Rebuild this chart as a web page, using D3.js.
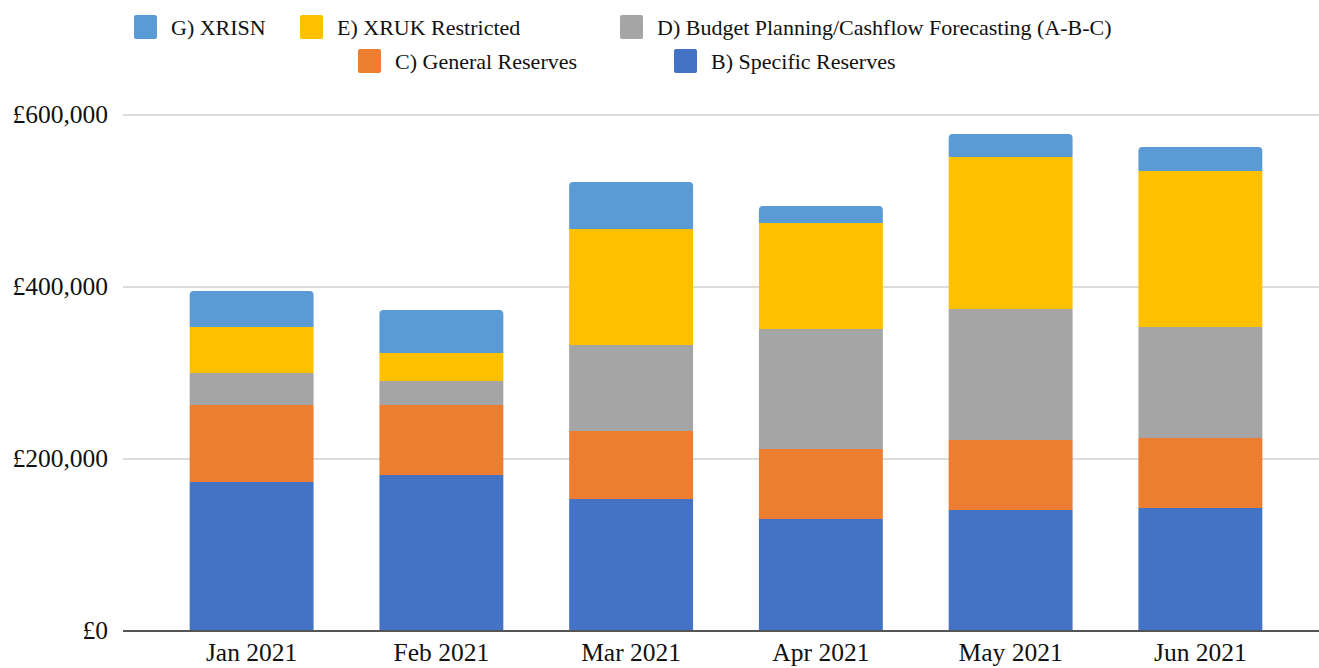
<!DOCTYPE html>
<html>
<head>
<meta charset="utf-8">
<script src="https://cdn.jsdelivr.net/npm/d3@7"></script>
<style>
  body { margin: 0; background: #fff; }
  svg { display: block; }
</style>
</head>
<body>
<svg id="chart" width="1319" height="668"></svg>
<script>
// data
var months = ["Jan 2021", "Feb 2021", "Mar 2021", "Apr 2021", "May 2021", "Jun 2021"];
var specificReserves = [173300, 181400, 153500, 130200, 140700, 143000];
var generalReserves = [89500, 81400, 79100, 81400, 81400, 81400];
var budgetPlanning = [37200, 27900, 100000, 139600, 152300, 129100];
var xrukRestricted = [53500, 32600, 134800, 123200, 176800, 181400];
var xrisn = [41800, 50000, 54600, 19800, 26700, 27900];
var yTicks = [0, 200000, 400000, 600000];

var seriesNames = ["B) Specific Reserves", "C) General Reserves", "D) Budget Planning/Cashflow Forecasting (A-B-C)", "E) XRUK Restricted", "G) XRISN"];
var seriesColors = ["#4472c4", "#ed7d31", "#a5a5a5", "#ffc000", "#5b9bd5"];
var seriesValues = [specificReserves, generalReserves, budgetPlanning, xrukRestricted, xrisn];

var svg = d3.select("#chart");
var fontFam = "'Liberation Serif', Tinos, 'Times New Roman', Times, 'Nimbus Roman', 'Noto Serif', FreeSerif, 'DejaVu Serif', serif";

var x = d3.scaleBand()
  .domain(months)
  .range([128, 1324])
  .paddingInner(0.347)
  .paddingOuter(0.325);

var y = d3.scaleLinear()
  .domain([0, 600000])
  .range([631, 115]);

// build rows for stack
var rows = months.map(function (m, i) {
  var r = { month: m };
  seriesNames.forEach(function (s, j) { r[s] = seriesValues[j][i]; });
  return r;
});
var stacked = d3.stack().keys(seriesNames)(rows);

// gridlines
svg.append("g")
  .selectAll("line")
  .data(yTicks.filter(function (d) { return d > 0; }))
  .enter()
  .append("line")
  .attr("x1", 123)
  .attr("x2", 1319)
  .attr("y1", function (d) { return y(d); })
  .attr("y2", function (d) { return y(d); })
  .attr("stroke", "#d0d0d0")
  .attr("stroke-width", 1.5);

// y labels
svg.append("g")
  .selectAll("text")
  .data(yTicks)
  .enter()
  .append("text")
  .attr("x", 108)
  .attr("y", function (d) { return y(d) + 8; })
  .attr("text-anchor", "end")
  .attr("font-family", fontFam)
  .style("font-size", "25.5px")
  .style("fill", "#111")
  .text(function (d) { return "£" + d3.format(",")(d); });

// bars
var groups = svg.append("g")
  .selectAll("g")
  .data(stacked)
  .enter()
  .append("g")
  .attr("fill", function (d, i) { return seriesColors[i]; });

groups.selectAll("path")
  .data(function (d, i) { return d.map(function (p) { return { p: p, top: i === stacked.length - 1 }; }); })
  .enter()
  .append("path")
  .attr("d", function (d) {
    var x0 = x(d.p.data.month), w = x.bandwidth();
    var y0 = y(d.p[0]), y1 = y(d.p[1]);
    var r = d.top ? 4 : 0;
    return "M" + x0 + "," + y0 +
      "V" + (y1 + r) +
      (r ? "Q" + x0 + "," + y1 + " " + (x0 + r) + "," + y1 : "") +
      "H" + (x0 + w - r) +
      (r ? "Q" + (x0 + w) + "," + y1 + " " + (x0 + w) + "," + (y1 + r) : "") +
      "V" + y0 + "Z";
  });

// baseline
svg.append("line")
  .attr("x1", 123)
  .attr("x2", 1319)
  .attr("y1", y(0))
  .attr("y2", y(0))
  .attr("stroke", "#555")
  .attr("stroke-width", 2);

// x labels (kept just inside the bottom edge)
svg.append("g")
  .selectAll("text")
  .data(months)
  .enter()
  .append("text")
  .attr("x", function (d) { return x(d) + x.bandwidth() / 2; })
  .attr("y", 661)
  .attr("text-anchor", "middle")
  .attr("font-family", fontFam)
  .style("font-size", "25.5px")
  .style("fill", "#111")
  .text(function (d) { return d; });

// legend
var legendItems = [
  { name: seriesNames[4], color: seriesColors[4], x: 134, y: 27 },
  { name: seriesNames[3], color: seriesColors[3], x: 300, y: 27 },
  { name: seriesNames[2], color: seriesColors[2], x: 620, y: 27 },
  { name: seriesNames[1], color: seriesColors[1], x: 358, y: 61 },
  { name: seriesNames[0], color: seriesColors[0], x: 674, y: 61 }
];
var legend = svg.append("g")
  .selectAll("g")
  .data(legendItems)
  .enter()
  .append("g")
  .attr("transform", function (d) { return "translate(" + d.x + "," + d.y + ")"; });
legend.append("rect")
  .attr("x", 0)
  .attr("y", -12)
  .attr("width", 23)
  .attr("height", 24)
  .attr("rx", 2)
  .attr("fill", function (d) { return d.color; });
legend.append("text")
  .attr("x", 37)
  .attr("y", 8)
  .attr("font-family", fontFam)
  .style("font-size", "22px")
  .style("fill", "#111")
  .text(function (d) { return d.name; });
</script>
</body>
</html>
